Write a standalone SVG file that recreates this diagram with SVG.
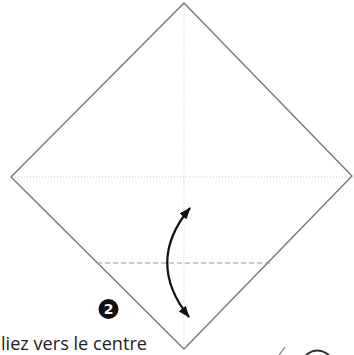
<svg xmlns="http://www.w3.org/2000/svg" width="354" height="355" viewBox="0 0 354 355">
<defs>
<style>
.edge{fill:none;stroke:#777;stroke-width:1.4}
.dot{fill:none;stroke:#c8c8c8;stroke-width:1;stroke-dasharray:1 2}
.valley{fill:none;stroke:#a09898;stroke-width:1.2;stroke-dasharray:5 3}
.arr{fill:none;stroke:#111;stroke-width:2.2}
.lbl{font-family:"Open Sans","Liberation Sans",sans-serif;font-size:18px;fill:#222}
</style>
<marker id="ah" viewBox="0 0 12 9" refX="11" refY="4.5" markerWidth="12" markerHeight="9" markerUnits="userSpaceOnUse" orient="auto-start-reverse">
<path d="M0,0 L12,4.5 L0,9 Z" fill="#111"/>
</marker>
</defs>
<rect width="354" height="355" fill="#fff"/>
<g id="paper">
<polygon class="edge" points="184,3 352,176 184,349 11,177"/>
<line class="dot" x1="184" y1="5" x2="184" y2="348"/>
<line class="dot" x1="12" y1="177" x2="351" y2="177"/>
<line class="valley" x1="97" y1="263" x2="271" y2="263"/>
</g>
<g id="connectors">
<path class="arr" d="M190,208 Q145,262 189,317" marker-start="url(#ah)" marker-end="url(#ah)"/>
</g>
<g id="step">
<circle cx="108.5" cy="309" r="10" fill="#111"/>
<text x="108.5" y="314" text-anchor="middle" font-family="'DejaVu Sans',sans-serif" font-weight="bold" font-size="14" fill="#fff">2</text>
<text class="lbl" x="1" y="349.5" textLength="146" lengthAdjust="spacingAndGlyphs">liez vers le centre</text>
</g>
<g id="partial">
<path d="M279,355 L285,347" stroke="#777" stroke-width="1.2" fill="none"/>
<path d="M306,355 Q317,346 329,355" stroke="#333" stroke-width="2" fill="none"/>
</g>
</svg>
